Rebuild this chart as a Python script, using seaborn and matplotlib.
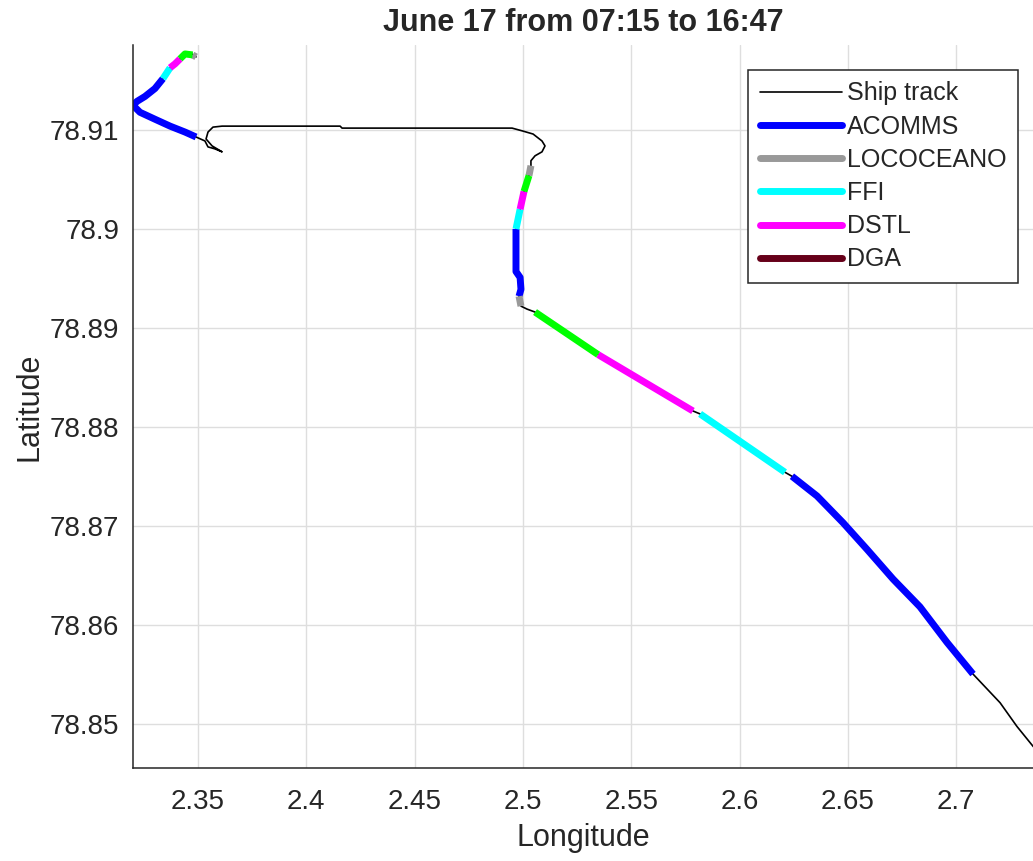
import numpy as np
import pandas as pd
import matplotlib
matplotlib.use("Agg")
import matplotlib.pyplot as plt
from matplotlib.lines import Line2D
import seaborn as sns

# ----------------------------------------------------------
# Data
# ----------------------------------------------------------
track_lon = [2.3491, 2.3472, 2.3440, 2.3417, 2.3394, 2.3371, 2.3338, 2.3301, 2.3255, 2.3218,
             2.3200, 2.3232, 2.3301, 2.3371, 2.3440, 2.3491, 2.3532, 2.3546, 2.3578, 2.3611,
             2.3565, 2.3537, 2.3546, 2.3569, 2.3611, 2.4156, 2.4165, 2.4950, 2.5000, 2.5047,
             2.5088, 2.5102, 2.5088, 2.5056, 2.5037, 2.5037, 2.5028, 2.5005, 2.4987, 2.4968,
             2.4968, 2.4987, 2.4991, 2.4982, 2.4991, 2.5019, 2.5056, 2.5347, 2.5785, 2.5818,
             2.6210, 2.6242, 2.6358, 2.6478, 2.6589, 2.6709, 2.6833, 2.6958, 2.7078, 2.7203,
             2.7281, 2.7355, 2.7433]
track_lat = [78.9174, 78.9177, 78.9177, 78.9172, 78.9167, 78.9163, 78.9152, 78.9142, 78.9134, 78.9129,
             78.9125, 78.9118, 78.9111, 78.9104, 78.9098, 78.9093, 78.9089, 78.9083, 78.9081, 78.9078,
             78.9084, 78.9091, 78.9098, 78.9103, 78.9104, 78.9104, 78.9102, 78.9102, 78.9099, 78.9096,
             78.9089, 78.9084, 78.9078, 78.9074, 78.9069, 78.9064, 78.9054, 78.9038, 78.9020, 78.9000,
             78.8957, 78.8951, 78.8939, 78.8932, 78.8922, 78.8919, 78.8916, 78.8873, 78.8816, 78.8813,
             78.8754, 78.8750, 78.8730, 78.8703, 78.8676, 78.8646, 78.8618, 78.8582, 78.8550, 78.8521,
             78.8497, 78.8477, 78.8459]

# experiment segments: one list of (lon, lat) pieces per group
acomms_lon = [[2.3338, 2.3301, 2.3255, 2.3218, 2.3200, 2.3232, 2.3301, 2.3371, 2.3440, 2.3491],
              [2.4968, 2.4968, 2.4987, 2.4991, 2.4982],
              [2.6242, 2.6358, 2.6478, 2.6589, 2.6709, 2.6833, 2.6958, 2.7078]]
acomms_lat = [[78.9152, 78.9142, 78.9134, 78.9129, 78.9125, 78.9118, 78.9111, 78.9104, 78.9098, 78.9093],
              [78.9000, 78.8957, 78.8951, 78.8939, 78.8932],
              [78.8750, 78.8730, 78.8703, 78.8676, 78.8646, 78.8618, 78.8582, 78.8550]]
lococeano_lon = [[2.3491, 2.3475], [2.5037, 2.5028], [2.4982, 2.4991]]
lococeano_lat = [[78.9174, 78.9176], [78.9064, 78.9054], [78.8932, 78.8922]]
ffi_lon = [[2.3371, 2.3338], [2.4987, 2.4968], [2.5818, 2.6210]]
ffi_lat = [[78.9163, 78.9152], [78.9020, 78.9000], [78.8813, 78.8754]]
dstl_lon = [[2.3417, 2.3394, 2.3371], [2.5005, 2.4987], [2.5347, 2.5785]]
dstl_lat = [[78.9172, 78.9167, 78.9163], [78.9038, 78.9020], [78.8873, 78.8816]]
dga_lon = []
dga_lat = []
other_lon = [[2.3475, 2.3440, 2.3417], [2.5028, 2.5005], [2.5056, 2.5347]]
other_lat = [[78.9176, 78.9177, 78.9172], [78.9054, 78.9038], [78.8916, 78.8873]]

groups = ["ACOMMS", "LOCOCEANO", "FFI", "DSTL", "DGA", "other"]
group_colors = ["#0000ff", "#999999", "#00ffff", "#ff00ff", "#660019", "#00ff00"]
group_lon = [acomms_lon, lococeano_lon, ffi_lon, dstl_lon, dga_lon, other_lon]
group_lat = [acomms_lat, lococeano_lat, ffi_lat, dstl_lat, dga_lat, other_lat]

x_ticks = [2.35, 2.4, 2.45, 2.5, 2.55, 2.6, 2.65, 2.7]
x_labels = ["2.35", "2.4", "2.45", "2.5", "2.55", "2.6", "2.65", "2.7"]
y_ticks = [78.85, 78.86, 78.87, 78.88, 78.89, 78.9, 78.91]
y_labels = ["78.85", "78.86", "78.87", "78.88", "78.89", "78.9", "78.91"]

# ----------------------------------------------------------
# Plot
# ----------------------------------------------------------
sns.set_style("white")
plt.rcParams['font.family'] = ['Liberation Sans', 'DejaVu Sans']

fig = plt.figure(figsize=(10.33, 8.61), dpi=100)
ax = fig.add_axes([0.1288, 0.1080, 0.8712, 0.8397])

track = pd.DataFrame({"lon": track_lon, "lat": track_lat})
sns.lineplot(data=track, x="lon", y="lat", sort=False, estimator=None,
             color="black", linewidth=1.2, ax=ax)

for name, col, lons, lats in zip(groups, group_colors, group_lon, group_lat):
    for lo, la in zip(lons, lats):
        sns.lineplot(x=lo, y=la, sort=False, estimator=None,
                     color=col, linewidth=5, ax=ax, solid_capstyle="butt")

ax.set_xlim(2.3200, 2.7355)
ax.set_ylim(78.8455, 78.9186)
ax.set_xticks(x_ticks)
ax.set_xticklabels(x_labels)
ax.set_yticks(y_ticks)
ax.set_yticklabels(y_labels)

ax.grid(True, color="#dedede", linewidth=1)
ax.set_axisbelow(True)
for s in ["top", "right"]:
    ax.spines[s].set_visible(False)
for s in ["left", "bottom"]:
    ax.spines[s].set_color("#262626")
    ax.spines[s].set_linewidth(1.1)
ax.tick_params(direction="in", length=5, width=1, colors="#262626",
               labelsize=20, pad=10)
ax.tick_params(axis="x", pad=15)

ax.set_xlabel("Longitude", fontsize=22, color="#262626", labelpad=6)
ax.set_ylabel("Latitude", fontsize=22, color="#262626")
ax.set_title("June 17 from 07:15 to 16:47", fontsize=22, fontweight="bold", pad=10)

handles = [Line2D([], [], color="black", linewidth=1.2)]
labels = ["Ship track"]
for name, col in zip(groups[:5], group_colors[:5]):
    handles.append(Line2D([], [], color=col, linewidth=5))
    labels.append(name)
leg = ax.legend(handles, labels, loc="upper right", fontsize=18,
                bbox_to_anchor=(1018 / 1033, (861 - 70) / 861),
                bbox_transform=fig.transFigure, borderaxespad=0,
                fancybox=False, framealpha=1, edgecolor="#262626",
                handlelength=3.3, handletextpad=0.2, labelspacing=0.37,
                borderpad=0.45)
leg.get_frame().set_linewidth(1.1)

plt.savefig("out.png", dpi=100)
